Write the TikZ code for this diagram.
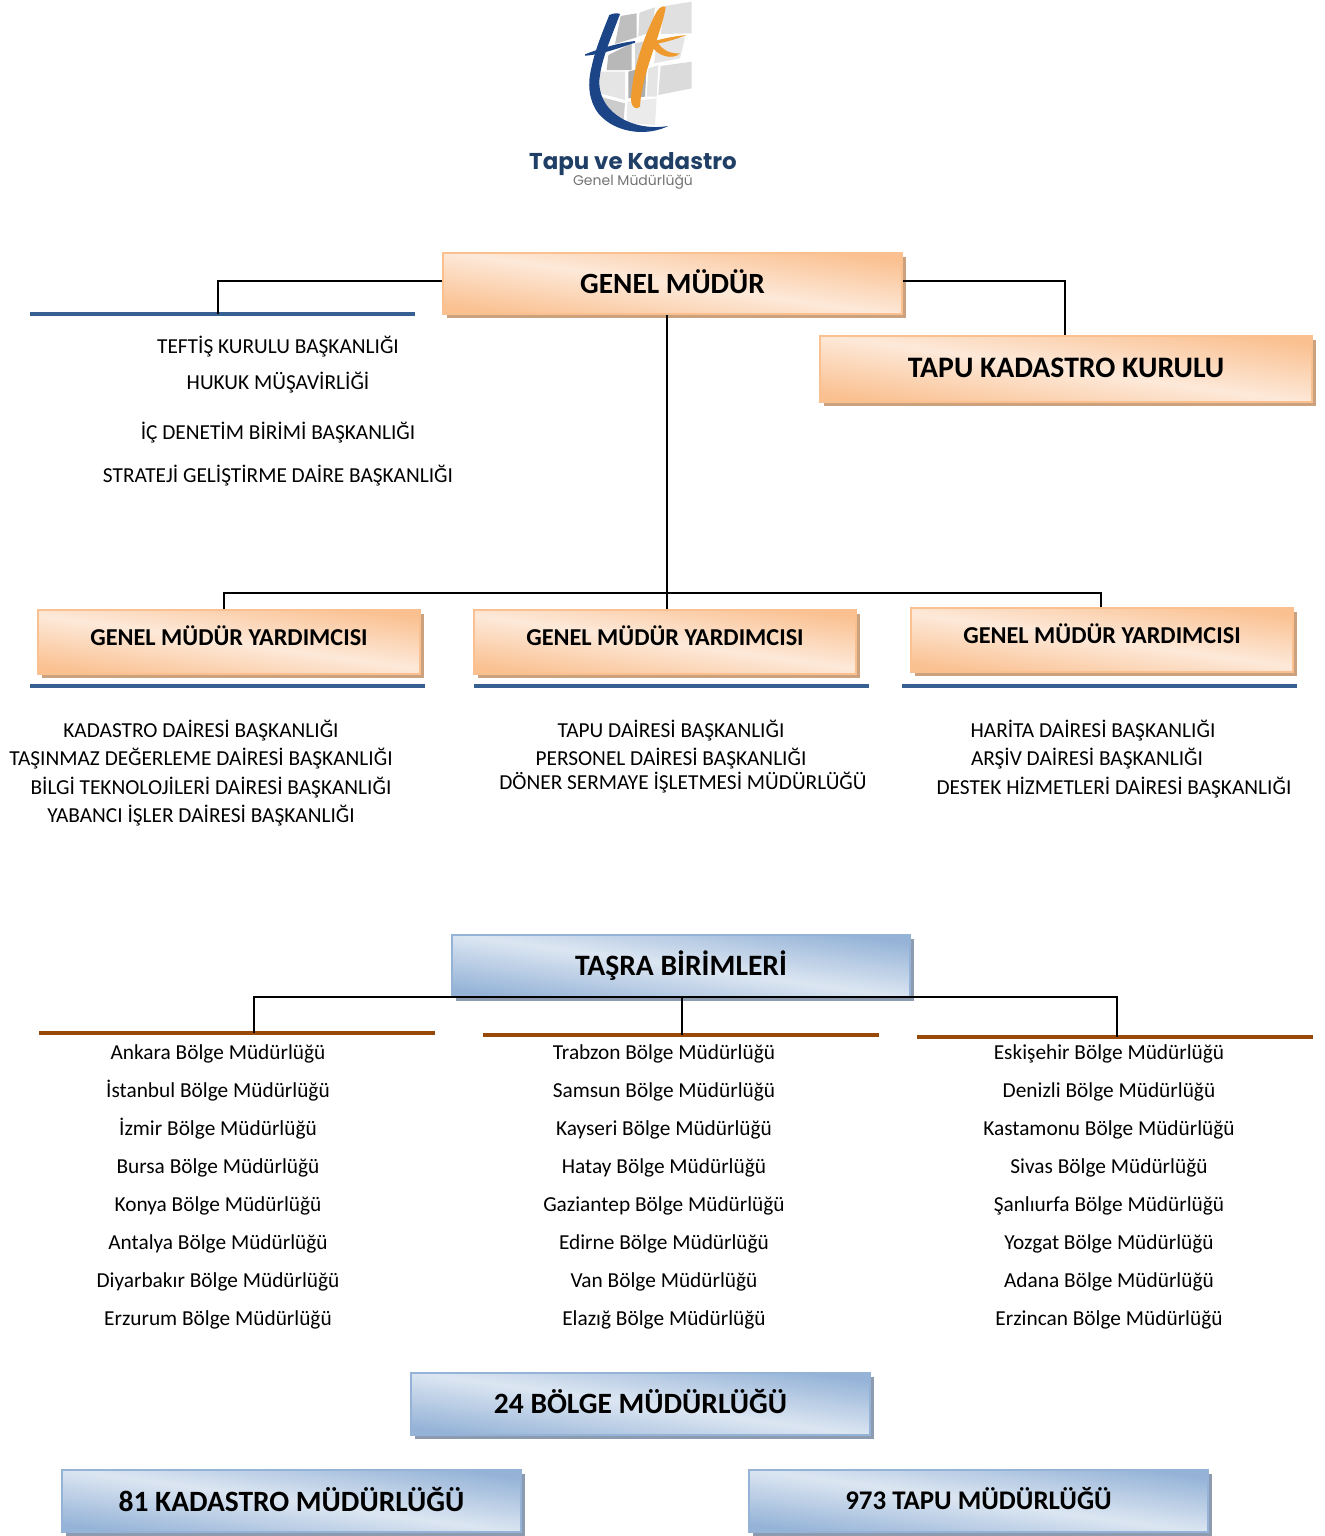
\documentclass[tikz,border=0pt]{standalone}
\usepackage{fontspec}
\setmainfont{Carlito}
\newfontfamily\logofont{Poppins}
\usetikzlibrary{shadows}

\definecolor{turuncuA}{HTML}{FDE9D9}
\definecolor{turuncuB}{HTML}{FAC090}
\definecolor{turuncuG}{HTML}{CBA17E}
\definecolor{maviA}{HTML}{DCE6F2}
\definecolor{maviB}{HTML}{95B3D7}
\definecolor{maviG}{HTML}{8C9BB0}
\definecolor{cizgiMavi}{HTML}{376092}
\definecolor{cizgiKahve}{HTML}{984807}
\definecolor{logoMavi}{HTML}{1C4587}
\definecolor{logoYazi}{HTML}{1F3F66}
\definecolor{logoTuruncu}{HTML}{EE9A2E}

\tikzset{
  kutu/.style={rectangle, inner sep=0pt, align=center, font=\bfseries\fontsize{#1}{#1}\selectfont, text=black},
  turuncu/.style={line width=1.5pt, draw=turuncuB, bottom color=turuncuB, top color=turuncuB, middle color=turuncuA,
    shading angle=-8, drop shadow={shadow xshift=3pt, shadow yshift=-3pt, opacity=1, fill=turuncuG}},
  mavi/.style={line width=1.5pt, draw=maviB, bottom color=maviB, top color=maviB, middle color=maviA,
    shading angle=-8, drop shadow={shadow xshift=3pt, shadow yshift=-3pt, opacity=1, fill=maviG}},
  yazi/.style={font=\fontsize{16}{16}\selectfont, text=black, inner sep=0pt, text height=12pt, text depth=3.5pt, yshift=-1.5pt},
  hat/.style={line width=1.1pt, black},
  ust/.style={line width=3pt, cizgiMavi},
  alt/.style={line width=3pt, cizgiKahve}
}

\begin{document}
\begin{tikzpicture}[x=0.75pt, y=-0.75pt]
  \useasboundingbox (0,0) rectangle (1325,1536);

  % logo
  \begin{scope}[shift={(500,0)}, x=0.25pt, y=-0.25pt]
    \foreach \c/\p in {
      black!25/{(362,48)--(410,40)--(410,112)--(345,132)--cycle},
      black!14/{(418,38)--(465,22)--(455,95)--(415,110)--cycle},
      black!12/{(495,18)--(575,5)--(575,100)--(482,102)--cycle},
      black!28/{(325,165)--(395,130)--(395,210)--(320,210)--cycle},
      black!16/{(405,130)--(450,120)--(440,190)--(405,205)--cycle},
      black!10/{(470,122)--(555,112)--(540,175)--(462,190)--cycle},
      black!14/{(482,198)--(575,185)--(575,265)--(475,285)--cycle},
      black!10/{(300,215)--(375,215)--(375,300)--(300,280)--cycle},
      black!32/{(385,215)--(440,200)--(435,290)--(385,295)--cycle},
      black!10/{(445,205)--(475,195)--(470,290)--(440,290)--cycle},
      black!20/{(300,290)--(375,310)--(370,370)--(325,345)--cycle},
      black!8/{(382,305)--(470,295)--(465,375)--(380,370)--cycle}}
      \fill[\c] \p;
    \fill[logoMavi] (328,45) .. controls (340,40) and (352,38) .. (360,42)
      .. controls (335,110) and (298,190) .. (298,250)
      .. controls (300,340) and (400,395) .. (505,378)
      .. controls (440,410) and (345,400) .. (295,340)
      .. controls (265,300) and (262,250) .. (275,200)
      .. controls (285,150) and (310,90) .. (328,45) -- cycle;
    \fill[logoMavi] (255,163) .. controls (300,145) and (360,128) .. (405,123)
      -- (405,128) .. controls (360,143) and (300,165) .. (255,167) -- cycle;
    \fill[logoTuruncu] (470,35) .. controls (480,20) and (492,15) .. (497,22)
      .. controls (485,100) and (425,220) .. (420,320)
      .. controls (410,330) and (395,325) .. (393,300)
      .. controls (395,220) and (430,110) .. (470,35) -- cycle;
    \fill[logoTuruncu] (450,126) .. controls (490,116) and (530,106) .. (560,106)
      .. controls (530,116) and (490,130) .. (450,134) -- cycle;
    \fill[logoTuruncu] (470,122) .. controls (485,150) and (510,162) .. (540,160)
      .. controls (520,180) and (470,172) .. (450,130) -- cycle;
  \end{scope}
  \node[inner sep=0pt, text=logoYazi, font=\logofont\bfseries\fontsize{17.2}{17}\selectfont] (logoust) at (633,164) {Tapu ve Kadastro};
  \node[inner sep=0pt, text=black!55, font=\logofont\fontsize{10.5}{10}\selectfont] (logoalt) at (633,182) {Genel Müdürlüğü};

  % kutular
  \node[kutu=22, turuncu, minimum width=344pt, minimum height=46pt] (genel) at (672.5,283.5) {\raisebox{3.5pt}{GENEL MÜDÜR}};
  \node[kutu=22.3, turuncu, minimum width=369pt, minimum height=50pt] (kurul) at (1066,369) {\raisebox{2pt}{TAPU KADASTRO KURULU}};
  \foreach \n/\x/\y in {yrdA/229/642, yrdB/665/642, yrdC/1102/640}
    \node[kutu=18.2, turuncu, minimum width=287pt, minimum height=48pt] (\n) at (\x,\y) {\raisebox{10pt}{GENEL MÜDÜR YARDIMCISI}};
  \foreach \n/\x/\y/\r/\s/\t in {tasra/681/966/1/22.2/TAŞRA BİRİMLERİ, bolge/640.5/1404/3.5/22.1/24 BÖLGE MÜDÜRLÜĞÜ, kadastro/291.5/1501/3/22.1/81 KADASTRO MÜDÜRLÜĞÜ, tapu/978.5/1501/4.5/20.2/973 TAPU MÜDÜRLÜĞÜ}
    \node[kutu=\s, mavi, minimum width=344pt, minimum height=46pt] (\n) at (\x,\y) {\raisebox{\r pt}{\t}};

  % mavi ve kahve cizgiler
  \foreach \n/\a/\b/\y in {ustA/30/415/314, ustB/30/425/686, ustC/474/869/686, ustD/902/1297/686}
    \draw[ust] (\a,\y) -- (\b,\y);
  \foreach \n/\a/\b/\y in {altA/39/435/1033, altB/483/879/1035, altC/917/1313/1037}
    \draw[alt] (\a,\y) -- (\b,\y);

  % yazilar
  \foreach \x/\y/\t in {278/346/TEFTİŞ KURULU BAŞKANLIĞI, 278/382/HUKUK MÜŞAVİRLİĞİ, 278/432/İÇ DENETİM BİRİMİ BAŞKANLIĞI, 278/475/STRATEJİ GELİŞTİRME DAİRE BAŞKANLIĞI,
    201/730/KADASTRO DAİRESİ BAŞKANLIĞI, 201/758/TAŞINMAZ DEĞERLEME DAİRESİ BAŞKANLIĞI, 211/787/BİLGİ TEKNOLOJİLERİ DAİRESİ BAŞKANLIĞI, 201/815/YABANCI İŞLER DAİRESİ BAŞKANLIĞI,
    671/730/TAPU DAİRESİ BAŞKANLIĞI, 671/758/PERSONEL DAİRESİ BAŞKANLIĞI, 683/782/DÖNER SERMAYE İŞLETMESİ MÜDÜRLÜĞÜ,
    1093/730/HARİTA DAİRESİ BAŞKANLIĞI, 1087/758/ARŞİV DAİRESİ BAŞKANLIĞI, 1114/787/DESTEK HİZMETLERİ DAİRESİ BAŞKANLIĞI}
    \node[yazi] at (\x,\y) {\t};

  \foreach \x/\liste in {218/{Ankara,İstanbul,İzmir,Bursa,Konya,Antalya,Diyarbakır,Erzurum},
    664/{Trabzon,Samsun,Kayseri,Hatay,Gaziantep,Edirne,Van,Elazığ},
    1109/{Eskişehir,Denizli,Kastamonu,Sivas,Şanlıurfa,Yozgat,Adana,Erzincan}}
    \foreach \t [count=\i from 0] in \liste
      \node[yazi] at (\x,{1052+38*\i}) {\t{} Bölge Müdürlüğü};

  % baglantilar
  \coordinate (teftis) at (218,314);
  \coordinate (kurulust) at (1065,335);
  \coordinate (yatayA) at (667,593);
  \coordinate (inA) at (224,609);
  \coordinate (inB) at (667,609);
  \coordinate (inC) at (1101,607);
  \coordinate (yatayB) at (682,997);
  \coordinate (inD) at (254,1033);
  \coordinate (inE) at (682,1035);
  \coordinate (inF) at (1117,1037);

  \draw[hat] (442,281) -| (teftis);
  \draw[hat] (903,281) -| (kurulust);
  \draw[hat] (genel.south -| inB) -- (inB);
  \draw[hat] (inA) |- (yatayA) -| (inC);
  \draw[hat] (inD) |- (yatayB) -| (inF);
  \draw[hat] (yatayB) -- (inE);
\end{tikzpicture}
\end{document}
